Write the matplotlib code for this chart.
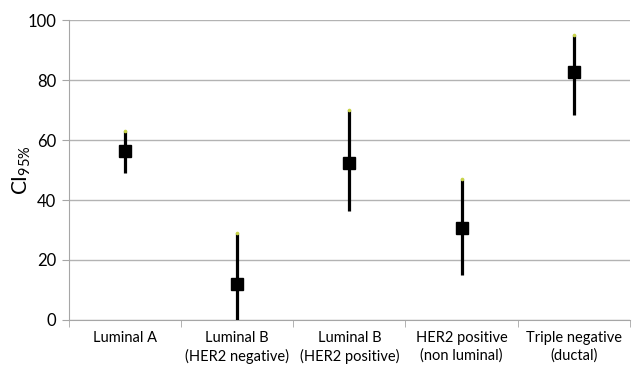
import numpy as np
import matplotlib.pyplot as plt

plt.rcParams['font.family'] = ['Lato', 'DejaVu Sans']
plt.rcParams['mathtext.fontset'] = 'custom'
plt.rcParams['mathtext.rm'] = 'Lato'
plt.rcParams['mathtext.it'] = 'Lato'

# data
categories = ["Luminal A", "Luminal B\n(HER2 negative)", "Luminal B\n(HER2 positive)",
              "HER2 positive\n(non luminal)", "Triple negative\n(ductal)"]
mean_vals = [56.3, 12.0, 52.3, 30.7, 82.8]
low_vals = [49.0, 0.0, 36.2, 15.0, 68.3]
high_vals = [63.0, 29.0, 70.0, 47.0, 95.0]
y_ticks = [0, 20, 40, 60, 80, 100]

fig = plt.figure(figsize=(6.44, 3.91), dpi=100)
ax = fig.add_axes([0.107, 0.1816, 0.871, 0.7672])

x = np.arange(len(categories))
ax.vlines(x, low_vals, high_vals, color='black', linewidth=2.3, zorder=3)
ax.plot(x, mean_vals, 's', color='black', markersize=8.5, zorder=4, linestyle='none')
ax.plot(x, high_vals, 'o', color='#c8d44a', markersize=1.6, zorder=5, linestyle='none')

ax.set_xlim(-0.5, len(categories) - 0.5)
ax.set_ylim(0, 100)
ax.set_yticks(y_ticks)
ax.tick_params(axis='y', labelsize=12, length=5, color='#a6a6a6', pad=4)
ax.yaxis.grid(True, color='#b3b3b3', linewidth=1)
ax.set_axisbelow(True)

ax.set_xticks(x)
ax.set_xticklabels(categories, fontsize=10.5, linespacing=1.3)
ax.set_xticks(np.arange(len(categories) + 1) - 0.5, minor=True)
ax.tick_params(axis='x', which='major', length=0, pad=8)
ax.tick_params(axis='x', which='minor', length=5, color='#a6a6a6', direction='out')

for s in ['top', 'right']:
    ax.spines[s].set_visible(False)
ax.spines['left'].set_color('#a6a6a6')
ax.spines['bottom'].set_color('#a6a6a6')

ax.set_ylabel(r'CI$_{\mathrm{95\%}}$', fontsize=15)
ax.yaxis.set_label_coords(-0.064, 0.5)

fig.savefig('out.png', dpi=100)
